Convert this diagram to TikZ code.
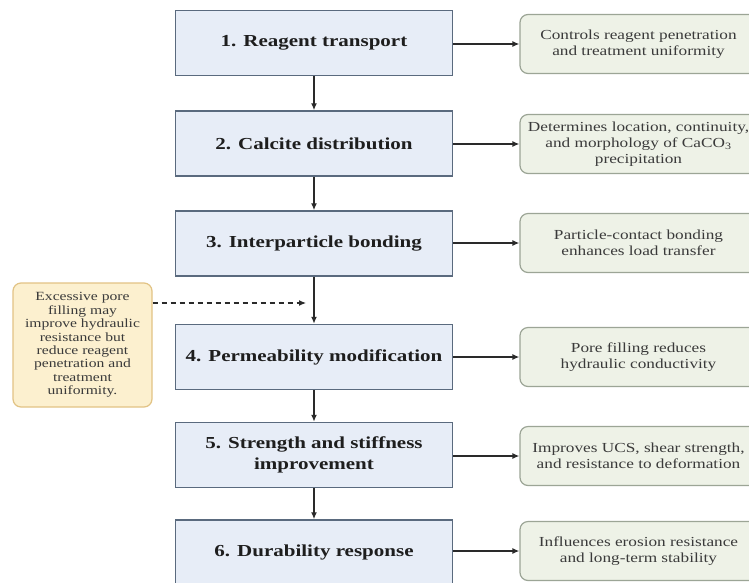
\documentclass[tikz,border=0pt]{standalone}
\usepackage{fontspec}
\setmainfont{Liberation Serif}[FakeStretch=1.25]
\usetikzlibrary{arrows.meta}
\definecolor{mainfill}{HTML}{E7EDF7}
\definecolor{mainline}{HTML}{5A6A7E}
\definecolor{maintext}{HTML}{1E1E1E}
\definecolor{sidefill}{HTML}{EEF2E7}
\definecolor{sideline}{HTML}{9CA596}
\definecolor{sidetext}{HTML}{3A3A3A}
\definecolor{notefill}{HTML}{FCF0CF}
\definecolor{noteline}{HTML}{E2C385}
\definecolor{arrowcol}{HTML}{2A2A2A}
\begin{document}
\begin{tikzpicture}[x=1pt,y=-1pt,
  mainbox/.style={draw=mainline, fill=mainfill, line width=1.5pt,
    minimum width=277pt, minimum height=65pt, inner sep=0pt, align=center,
    font=\fontsize{16.8}{21}\selectfont\bfseries, text=maintext},
  sidebox/.style={draw=sideline, fill=sidefill, line width=1.2pt, rounded corners=8pt,
    minimum width=237pt, minimum height=59pt, inner sep=0pt, align=center,
    font=\fontsize{13.8}{16}\selectfont, text=sidetext},
  notebox/.style={draw=noteline, fill=notefill, line width=1.2pt, rounded corners=8pt,
    minimum width=139pt, minimum height=124pt, inner sep=0pt, align=center,
    font=\fontsize{12.5}{13.4}\selectfont, text=sidetext},
  flow/.style={draw=arrowcol, line width=1.4pt, -{Latex[length=7pt,width=6pt]}},
  dflow/.style={draw=arrowcol, line width=1.2pt, dash pattern=on 5pt off 4pt, -{Latex[length=7pt,width=6pt]}}
]
\useasboundingbox (0,0) rectangle (749,582);
\fill[white] (0,0) rectangle (749,582);

\node[mainbox] (m1) at (314,43) {1. Reagent transport};
\node[mainbox] (m2) at (314,143.5) {2. Calcite distribution};
\node[mainbox] (m3) at (314,243.5) {3. Interparticle bonding};
\node[mainbox] (m4) at (314,357) {4. Permeability modification};
\node[mainbox] (m5) at (314,455) {5. Strength and stiffness\\improvement};
\node[mainbox] (m6) at (314,552.5) {6. Durability response};

\node[sidebox] (s1) at (638.5,44) {Controls reagent penetration\\and treatment uniformity};
\node[sidebox] (s2) at (638.5,144) {Determines location, continuity,\\and morphology of CaCO\textsubscript{3}\\precipitation};
\node[sidebox] (s3) at (638.5,243) {Particle-contact bonding\\enhances load transfer};
\node[sidebox] (s4) at (638.5,357) {Pore filling reduces\\hydraulic conductivity};
\node[sidebox] (s5) at (638.5,456) {Improves UCS, shear strength,\\and resistance to deformation};
\node[sidebox] (s6) at (638.5,551) {Influences erosion resistance\\and long-term stability};

\node[notebox] (n1) at (82.5,345) {Excessive pore\\filling may\\improve hydraulic\\resistance but\\reduce reagent\\penetration and\\treatment\\uniformity.};

\draw[flow] (m1) -- (m2);
\draw[flow] (m2) -- (m3);
\draw[flow] (m3) -- (m4);
\draw[flow] (m4) -- (m5);
\draw[flow] (m5) -- (m6);

\draw[flow] (m1.east |- s1) -- (s1.west);
\draw[flow] (m2.east |- s2) -- (s2.west);
\draw[flow] (m3.east |- s3) -- (s3.west);
\draw[flow] (m4.east |- s4) -- (s4.west);
\draw[flow] (m5.east |- s5) -- (s5.west);
\draw[flow] (m6.east |- s6) -- (s6.west);

\coordinate (dashend) at (306,303);
\draw[dflow] (n1.east |- dashend) -- (dashend);
\end{tikzpicture}
\end{document}
